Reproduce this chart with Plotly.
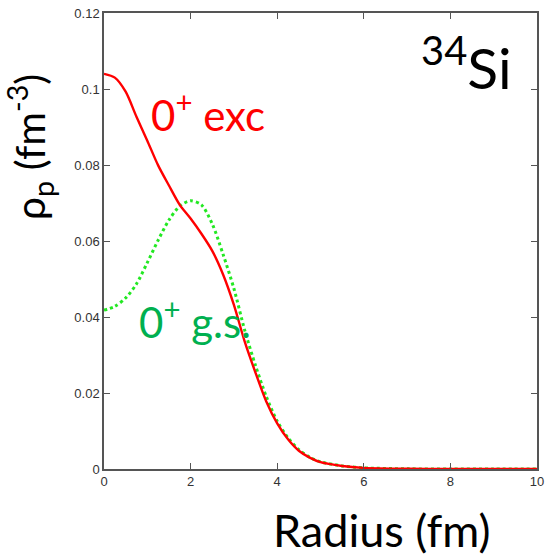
import plotly.graph_objects as go

radius = [0, 0.25, 0.5, 0.75, 1.0, 1.25, 1.5, 1.75, 2.0, 2.25, 2.5, 2.75, 3.0,
          3.25, 3.5, 3.75, 4.0, 4.25, 4.5, 4.75, 5.0, 5.5, 6.0, 7.0, 8.0, 9.0, 10.0]
rho_exc = [0.1040, 0.1030, 0.0993, 0.0927, 0.0864, 0.0799, 0.0746, 0.0695, 0.0659,
           0.0619, 0.0574, 0.0512, 0.0432, 0.0335, 0.0253, 0.0177, 0.0120, 0.0078,
           0.0048, 0.0030, 0.0018, 0.0008, 0.0003, 0.00005, 0.0, 0.0, 0.0]
rho_gs = [0.0418, 0.0428, 0.0450, 0.0487, 0.0543, 0.0602, 0.0655, 0.0692, 0.0706,
          0.0695, 0.0645, 0.0565, 0.0475, 0.0365, 0.0272, 0.0190, 0.0126, 0.0082,
          0.0051, 0.0031, 0.0019, 0.0008, 0.0003, 0.00005, 0.0, 0.0, 0.0]

x_ticks = [0, 2, 4, 6, 8, 10]
y_ticks = [0, 0.02, 0.04, 0.06, 0.08, 0.1, 0.12]
y_tick_labels = ["0", "0.02", "0.04", "0.06", "0.08", "0.1", "0.12"]

fig = go.Figure()
fig.add_trace(go.Scatter(x=radius, y=rho_gs, mode="lines",
                         line=dict(color="#22e822", width=3, dash="dot",
                                   shape="spline", smoothing=0.8),
                         showlegend=False))
fig.add_trace(go.Scatter(x=radius, y=rho_exc, mode="lines",
                         line=dict(color="#ff0000", width=2.4,
                                   shape="spline", smoothing=0.8),
                         showlegend=False))

axis_common = dict(showgrid=False, zeroline=False, showline=True, linecolor="#555555",
                   linewidth=1.5, mirror="ticks", ticks="inside", ticklen=6,
                   tickcolor="#555555", tickwidth=1, ticklabeloverflow="allow",
                   automargin=False,
                   tickfont=dict(family="Liberation Sans, Arial", size=13, color="#333333"))

fig.update_xaxes(range=[0, 10], tickvals=x_ticks, **axis_common)
fig.update_yaxes(range=[0, 0.12], tickvals=y_ticks, ticktext=y_tick_labels, **axis_common)

calibri = "Lato, Carlito, Calibri, sans-serif"
fig.add_annotation(text="Radius (fm)", xref="paper", yref="paper", x=0.642, y=-0.134,
                   xanchor="center", yanchor="middle", showarrow=False,
                   font=dict(family=calibri, size=45, color="#000000"))
fig.add_annotation(text="ρ<sub>p</sub> (fm<sup>-3</sup>)", xref="paper", yref="paper",
                   x=-0.171, y=0.706, xanchor="center", yanchor="middle", showarrow=False,
                   textangle=-90, font=dict(family=calibri, size=41, color="#000000"))
fig.add_annotation(text="0<sup>+</sup> exc", xref="x", yref="y", x=2.4, y=0.0940,
                   showarrow=False, xanchor="center", yanchor="middle",
                   font=dict(family=calibri, size=42, color="#ff0000"))
fig.add_annotation(text="0<sup>+</sup> g.s.", xref="x", yref="y", x=2.1, y=0.0395,
                   showarrow=False, xanchor="center", yanchor="middle",
                   font=dict(family=calibri, size=42, color="#00b050"))
fig.add_annotation(text="<sup>34</sup>Si", xref="x", yref="y", x=8.38, y=0.1068,
                   showarrow=False, xanchor="center", yanchor="middle",
                   font=dict(family=calibri, size=57, color="#000000"))

fig.update_layout(width=545, height=557, margin=dict(l=104, r=8, t=13, b=88),
                  plot_bgcolor="white", paper_bgcolor="white")

fig.write_html("out.html",
               config={"responsive": False, "displayModeBar": False},
               post_script="document.body.style.margin='0';document.body.style.overflow='hidden';")
